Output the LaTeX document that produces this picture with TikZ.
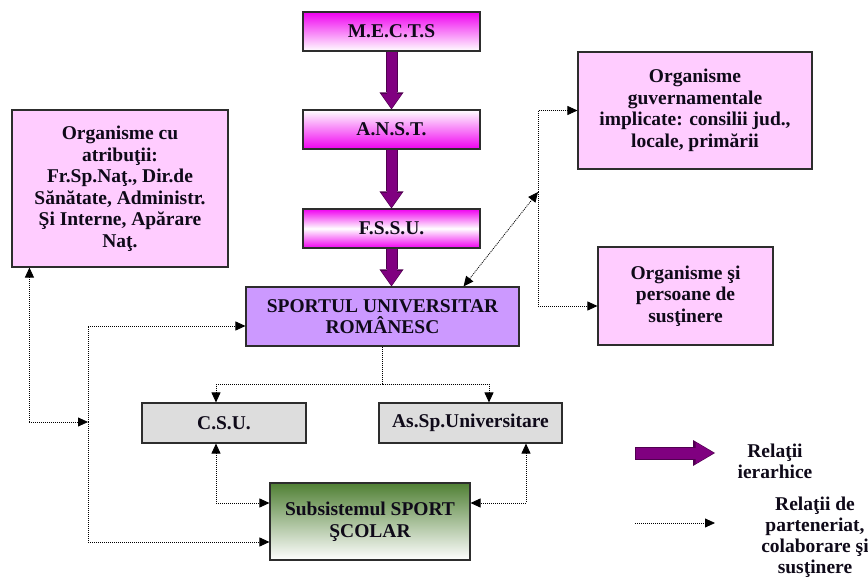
\documentclass[tikz,border=0pt]{standalone}
\usepackage{fontspec}
\setmainfont{Liberation Serif}
\usetikzlibrary{arrows.meta,calc}
\definecolor{mag}{RGB}{240,0,240}
\definecolor{pinkbox}{RGB}{255,204,255}
\definecolor{lav}{RGB}{204,153,255}
\definecolor{greybox}{RGB}{221,221,221}
\definecolor{darkgreen}{RGB}{80,128,52}
\definecolor{purp}{RGB}{128,0,128}
\definecolor{purpedge}{RGB}{80,0,80}
\definecolor{edgecol}{RGB}{45,45,45}
\definecolor{txt}{RGB}{15,10,25}
\begin{document}
\begin{tikzpicture}[x=1pt,y=-1pt,
  box/.style={draw=edgecol, line width=1.1pt, rectangle, inner sep=0pt, align=center,
    text=txt, font=\fontsize{19.5}{21.5}\selectfont\bfseries},
  hierout/.style={draw=purpedge, line width=12pt, -{Triangle[width=24pt,length=17pt,line width=0pt]}},
  hier/.style={draw=purp, line width=10pt, -{Triangle[width=20pt,length=14pt,line width=0pt]}, shorten >=1.2pt},
  rel/.style={draw=black, line width=0.8pt, dash pattern=on 1pt off 1pt,
    -{Triangle[length=10pt,width=9pt]}},
  relboth/.style={rel, {Triangle[length=10pt,width=9pt]}-{Triangle[length=10pt,width=9pt]}},
  dotline/.style={draw=black, line width=0.8pt, dash pattern=on 1pt off 1pt},
  legtext/.style={align=center, text=txt, font=\fontsize{19.5}{21}\selectfont\bfseries}]
\useasboundingbox (0,0) rectangle (868,577);

% hierarchy column
\node[box, minimum width=177pt, minimum height=39pt, top color=mag, bottom color=white] (mects) at (391.5,31.5) {M.E.C.T.S};
\node[box, minimum width=177pt, minimum height=39pt, top color=white, bottom color=mag] (anst) at (391.5,129.5) {A.N.S.T.};
\node[box, minimum width=177pt, minimum height=39pt, top color=mag, bottom color=mag, middle color=white] (fssu) at (391.5,228.5) {F.S.S.U.};
\node[box, fill=lav, minimum width=273pt, minimum height=59pt] (sport) at (382.5,316.5) {SPORTUL UNIVERSITAR\\ROMÂNESC};

% side boxes
\node[box, fill=pinkbox, minimum width=216pt, minimum height=157pt] (left) at (120,188.5) {Organisme cu\\atribuţii:\\Fr.Sp.Naţ., Dir.de\\Sănătate, Administr.\\Şi Interne, Apărare\\Naţ.};
\node[box, fill=pinkbox, minimum width=234pt, minimum height=117pt] (gov) at (695,110.5) {Organisme\\guvernamentale\\implicate: consilii jud.,\\locale, primării};
\node[box, fill=pinkbox, minimum width=175pt, minimum height=98pt] (sust) at (685.5,296) {Organisme şi\\persoane de\\susţinere};

% lower boxes
\node[box, fill=greybox, minimum width=164pt, minimum height=40pt] (csu) at (224,423) {C.S.U.};
\node[box, fill=greybox, minimum width=183pt, minimum height=40pt] (assp) at (470.5,423) {As.Sp.Universitare};
\node[box, top color=darkgreen, bottom color=white, minimum width=200pt, minimum height=77pt] (scolar) at (370,521.5) {Subsistemul SPORT\\ŞCOLAR};

% hierarchical arrows
\draw[hierout] (mects.south) -- (anst.north);
\draw[hier] ($(mects.south)+(0,0.6)$) -- (anst.north);
\draw[hierout] (anst.south) -- (fssu.north);
\draw[hier] ($(anst.south)+(0,0.6)$) -- (fssu.north);
\draw[hierout] (fssu.south) -- (fssu.south |- sport.north);
\draw[hier] ($(fssu.south)+(0,0.6)$) -- (fssu.south |- sport.north);

% partnership connectors
\coordinate (j1) at (538,192);
\draw[relboth] ($(sport.north east)+(-56,0)$) -- (j1);
\draw[rel] (j1) |- (gov.west);
\draw[rel] (j1) |- ($(sust.west)+(0,10)$);

\coordinate (spine) at (88,422);
\draw[relboth] ($(left.south west)+(18,0)$) |- (spine);
\draw[rel] (spine) |- ($(sport.west)+(0,9.5)$);
\draw[rel] (spine) |- ($(scolar.west)+(0,20.5)$);

\coordinate (split) at (382.5,384);
\draw[dotline] (sport.south) -- (split);
\draw[rel] (split) -| ($(csu.north)+(-8,0)$);
\draw[rel] (split) -| ($(assp.north)+(18.5,0)$);

\draw[relboth] ($(csu.south)+(-8,0)$) |- ($(scolar.west)+(0,-18.5)$);
\draw[relboth] ($(assp.south)+(55.5,0)$) |- ($(scolar.east)+(0,-18.5)$);

% legend
\coordinate (la1) at (635,453);
\coordinate (la2) at (715,453);
\draw[draw=purpedge, line width=13pt, -{Triangle[width=26pt,length=22pt,line width=0pt]}] (la1) -- (la2);
\draw[draw=purp, line width=11pt, -{Triangle[width=22pt,length=18pt,line width=0pt]}, shorten >=1.5pt] ($(la1)+(1,0)$) -- (la2);
\node[legtext] (lt1) at (775,461) {Relaţii\\ierarhice};
\coordinate (lb1) at (635,523);
\coordinate (lb2) at (715,523);
\draw[rel] (lb1) -- (lb2);
\node[legtext] (lt2) at (815,537) {Relaţii de\\parteneriat,\\colaborare şi\\susţinere};
\end{tikzpicture}
\end{document}
